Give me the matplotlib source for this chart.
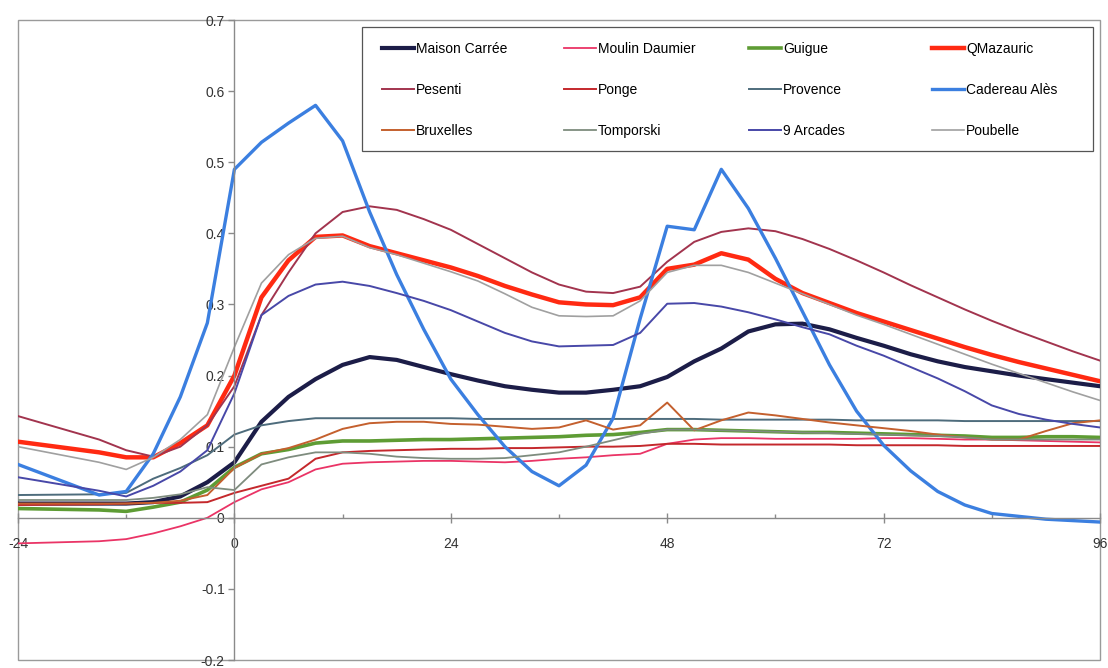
import numpy as np
import matplotlib
matplotlib.use('Agg')
import matplotlib.pyplot as plt
from matplotlib.patches import Rectangle
from matplotlib.legend import Legend
from matplotlib.ticker import MultipleLocator, FuncFormatter

plt.rcParams['font.family'] = ['Liberation Sans', 'DejaVu Sans']
plt.rcParams['axes.unicode_minus'] = False

# time in hours (0 = peak of rainfall)
hours = [-24, -15, -12, -9, -6, -3, 0, 3, 6, 9, 12, 15, 18, 21, 24, 27, 30, 33, 36, 39,
         42, 45, 48, 51, 54, 57, 60, 63, 66, 69, 72, 75, 78, 81, 84, 87, 90, 93, 96]

maison_carree = [.020, .020, .020, .022, .030, .050, .078, .135, .170, .195, .215, .226, .222, .212,
                 .202, .193, .185, .180, .176, .176, .180, .185, .198, .220, .238, .262, .272, .273,
                 .265, .253, .242, .230, .220, .212, .206, .200, .195, .190, .185]
moulin_daumier = [-.036, -.033, -.030, -.022, -.012, .000, .022, .040, .050, .068, .076, .078, .079,
                  .080, .080, .079, .078, .080, .083, .085, .088, .090, .104, .110, .112, .112, .111,
                  .111, .111, .111, .112, .112, .111, .110, .110, .109, .108, .107, .106]
guigue = [.013, .011, .009, .015, .022, .039, .071, .090, .096, .105, .108, .108, .109, .110, .110,
          .111, .112, .113, .114, .116, .117, .120, .124, .124, .123, .122, .121, .120, .120, .119,
          .118, .117, .116, .115, .113, .113, .114, .114, .113]
qmazauric = [.107, .092, .085, .085, .105, .130, .200, .310, .362, .395, .397, .382, .372, .362,
             .352, .340, .326, .314, .303, .300, .299, .310, .350, .356, .372, .363, .336, .316,
             .302, .288, .276, .264, .252, .240, .229, .219, .210, .201, .192]
pesenti = [.143, .110, .095, .086, .100, .130, .185, .285, .345, .400, .430, .438, .433, .420, .405,
           .385, .365, .345, .328, .318, .316, .325, .360, .388, .402, .407, .403, .392, .378, .362,
           .345, .327, .310, .293, .277, .262, .248, .234, .221]
ponge = [.018, .019, .020, .021, .021, .022, .035, .045, .055, .083, .092, .094, .095, .096, .097,
         .097, .098, .098, .099, .100, .100, .101, .104, .104, .103, .103, .103, .103, .103, .102,
         .102, .102, .102, .101, .101, .101, .101, .101, .101]
provence = [.032, .033, .035, .055, .070, .088, .117, .130, .136, .140, .140, .140, .140, .140, .140,
            .139, .139, .139, .139, .139, .139, .139, .139, .139, .138, .138, .138, .138, .138, .137,
            .137, .137, .137, .136, .136, .136, .136, .136, .136]
cadereau_ales = [.075, .032, .037, .090, .170, .274, .490, .528, .555, .580, .530, .430, .342, .265,
                 .195, .145, .100, .065, .045, .074, .140, .280, .410, .405, .490, .435, .365, .290,
                 .215, .150, .102, .066, .037, .018, .006, .002, -.002, -.004, -.006]
bruxelles = [.020, .020, .020, .021, .024, .032, .070, .090, .098, .110, .125, .133, .135, .135, .132,
             .131, .128, .125, .127, .137, .124, .130, .162, .123, .137, .148, .144, .139, .134, .130,
             .126, .122, .117, .113, .110, .110, .122, .133, .137]
tomporski = [.025, .025, .025, .028, .033, .043, .039, .075, .085, .092, .092, .090, .086, .084, .083,
             .083, .084, .088, .092, .100, .109, .118, .124, .124, .123, .122, .121, .120, .119, .118,
             .117, .116, .115, .113, .110, .110, .110, .110, .110]
neuf_arcades = [.057, .038, .030, .045, .065, .095, .175, .285, .312, .328, .332, .326, .316, .305,
                .292, .276, .260, .248, .241, .242, .243, .260, .301, .302, .297, .289, .279, .268,
                .258, .242, .228, .212, .196, .178, .158, .146, .138, .132, .127]
poubelle = [.100, .078, .068, .085, .110, .145, .240, .330, .370, .393, .396, .380, .370, .358, .346,
            .333, .315, .296, .284, .283, .284, .305, .345, .355, .355, .345, .330, .315, .300, .285,
            .272, .258, .244, .230, .216, .203, .190, .177, .165]

names = ['Maison Carrée', 'Moulin Daumier', 'Guigue', 'QMazauric',
         'Pesenti', 'Ponge', 'Provence', 'Cadereau Alès',
         'Bruxelles', 'Tomporski', '9 Arcades', 'Poubelle']
series = [maison_carree, moulin_daumier, guigue, qmazauric,
          pesenti, ponge, provence, cadereau_ales,
          bruxelles, tomporski, neuf_arcades, poubelle]
colors = ['#1c1d48', '#ea3466', '#5e9c34', '#ff2a12',
          '#a2344e', '#c4282c', '#4e6c7c', '#3b7fe0',
          '#c4602e', '#7e8c7e', '#4848a8', '#a0a0a0']
widths = [3.0, 1.3, 2.6, 3.2, 1.4, 1.4, 1.4, 2.4, 1.4, 1.3, 1.4, 1.2]

fig = plt.figure(figsize=(11.08, 6.68), dpi=100)
ax = fig.add_axes([18/1108, 8/668, 1082/1108, 640/668])

lines = []
for name, vals, c, w in zip(names, series, colors, widths):
    l, = ax.plot(hours, vals, color=c, lw=w, label=name, zorder=2)
    lines.append(l)

ax.set_xlim(-24, 96)
ax.set_ylim(-0.2, 0.7)

# axes crossing at (0, 0)
ax.spines['left'].set_position(('data', 0))
ax.spines['bottom'].set_position(('data', 0))
ax.spines['top'].set_visible(False)
ax.spines['right'].set_visible(False)
for s in ['left', 'bottom']:
    ax.spines[s].set_color('#8a8a8a')
    ax.spines[s].set_linewidth(1.0)

# outer frame of the plot area
ax.add_patch(Rectangle((0, 0), 1, 1, transform=ax.transAxes, fill=False,
                       ec='#9a9a9a', lw=1.0, clip_on=False))

ax.xaxis.set_major_locator(MultipleLocator(24))
ax.xaxis.set_minor_locator(MultipleLocator(12))
ax.yaxis.set_major_locator(MultipleLocator(0.1))
ax.yaxis.set_major_formatter(FuncFormatter(lambda v, p: '0' if abs(v) < 1e-9 else f"{v:.1f}"))
ax.xaxis.set_major_formatter(FuncFormatter(lambda v, p: f"{v:g}"))

ax.tick_params(axis='x', which='major', direction='inout', length=7, width=1, color='#8a8a8a',
               labelsize=10, labelcolor='#333333', pad=10)
ax.tick_params(axis='x', which='minor', direction='in', length=3, width=1, color='#8a8a8a')
ax.tick_params(axis='y', which='major', direction='out', length=4, width=1, color='#8a8a8a',
               labelsize=10, labelcolor='#333333', pad=3)

# legend box, 4 equally spaced columns filled row by row
ax.add_patch(Rectangle((0.318, 0.795), 0.6756, 0.194, transform=ax.transAxes,
                       fc='white', ec='#555555', lw=0.9, zorder=4))
col_x = [0.3364, 0.5046, 0.6756, 0.8447]
for j, x0 in enumerate(col_x):
    idx = [j, j + 4, j + 8]
    lg = Legend(ax, [lines[i] for i in idx], [names[i] for i in idx], loc='upper left',
                bbox_to_anchor=(x0, 0.966), borderaxespad=0, borderpad=0, frameon=False,
                fontsize=10, labelspacing=1.95, handlelength=2.3, handletextpad=0.15)
    lg.set_zorder(5)
    ax.add_artist(lg)

plt.savefig('out.png', dpi=100)
